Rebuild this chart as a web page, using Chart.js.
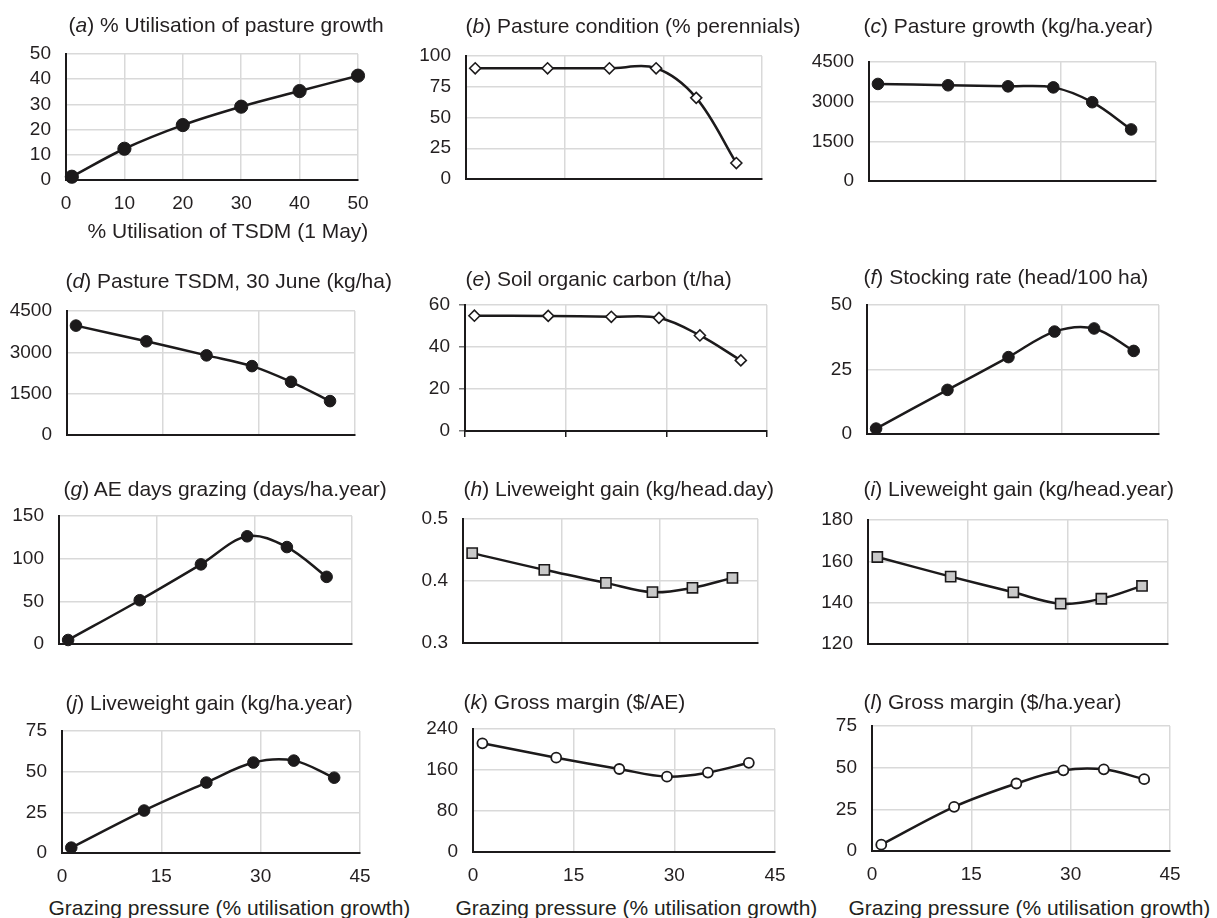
<!DOCTYPE html>
<html>
<head>
<meta charset="utf-8">
<script src="https://cdn.jsdelivr.net/npm/chart.js@4.4.0/dist/chart.umd.min.js"></script>
<style>
  html, body { margin: 0; background: #fff; }
  #page { position: relative; width: 1217px; height: 918px; overflow: hidden;
          font-family: 'Liberation Sans', Arial, sans-serif; color: #231f20; }
  #page canvas { position: absolute; }
  .label { position: absolute; font-size: 21px; line-height: 21px; white-space: nowrap; }
</style>
</head>
<body>
<div id="page"></div>
<script>
// values
const grazingPressure = [1.4, 12.4, 21.8, 28.9, 35.0, 41.1];
const tsdmUtilisation = [1, 10, 20, 30, 40, 50];
const growthUtilisation = [1.3, 12.4, 21.8, 29.1, 35.3, 41.4];
const perennials = [90, 90, 90, 90, 66, 13];
const pastureGrowth = [3670, 3620, 3580, 3540, 2980, 1950];
const pastureTsdm = [3970, 3400, 2890, 2500, 1930, 1230];
const soilCarbon = [54.9, 54.8, 54.4, 53.9, 45.5, 33.6];
const stockingRate = [2.1, 17.1, 29.8, 39.7, 40.9, 32.2];
const aeDays = [4.7, 51.3, 93.3, 126.2, 113.6, 78.7];
const lwgPerDay = [0.445, 0.418, 0.397, 0.382, 0.389, 0.405];
const lwgPerHead = [162.1, 152.6, 145.0, 139.5, 141.9, 148.1];
const lwgPerHa = [3.3, 26.1, 43.3, 55.6, 56.8, 46.3];
const marginPerAE = [212, 184, 162, 147, 155, 174];
const marginPerHa = [3.8, 26.5, 40.5, 48.4, 49.0, 43.1];

// tick labels
const xTicksTsdm = [0, 10, 20, 30, 40, 50];
const xTicksPressure = [0, 15, 30, 45];
const yTicks = {
  a: [0, 10, 20, 30, 40, 50],
  b: [0, 25, 50, 75, 100],
  c: [0, 1500, 3000, 4500],
  d: [0, 1500, 3000, 4500],
  e: [0, 20, 40, 60],
  f: [0, 25, 50],
  g: [0, 50, 100, 150],
  h: [0.3, 0.4, 0.5],
  i: [120, 140, 160, 180],
  j: [0, 25, 50, 75],
  k: [0, 80, 160, 240],
  l: [0, 25, 50, 75]
};

const titles = {
  a: '% Utilisation of pasture growth',
  b: 'Pasture condition (% perennials)',
  c: 'Pasture growth (kg/ha.year)',
  d: 'Pasture TSDM, 30 June (kg/ha)',
  e: 'Soil organic carbon (t/ha)',
  f: 'Stocking rate (head/100 ha)',
  g: 'AE days grazing (days/ha.year)',
  h: 'Liveweight gain (kg/head.day)',
  i: 'Liveweight gain (kg/head.year)',
  j: 'Liveweight gain (kg/ha.year)',
  k: 'Gross margin ($/AE)',
  l: 'Gross margin ($/ha.year)'
};
const xTitleTsdm = '% Utilisation of TSDM (1 May)';
const xTitlePressure = 'Grazing pressure (% utilisation growth)';

const panels = [
  { key: 'a', x: tsdmUtilisation, y: growthUtilisation, xTicks: xTicksTsdm, marker: 'bigDot', xTitle: xTitleTsdm },
  { key: 'b', x: grazingPressure, y: perennials, xTicks: xTicksPressure, marker: 'diamond' },
  { key: 'c', x: grazingPressure, y: pastureGrowth, xTicks: xTicksPressure, marker: 'dot' },
  { key: 'd', x: grazingPressure, y: pastureTsdm, xTicks: xTicksPressure, marker: 'dot' },
  { key: 'e', x: grazingPressure, y: soilCarbon, xTicks: xTicksPressure, marker: 'diamond', tickMarks: true },
  { key: 'f', x: grazingPressure, y: stockingRate, xTicks: xTicksPressure, marker: 'dot' },
  { key: 'g', x: grazingPressure, y: aeDays, xTicks: xTicksPressure, marker: 'dot' },
  { key: 'h', x: grazingPressure, y: lwgPerDay, xTicks: xTicksPressure, marker: 'square' },
  { key: 'i', x: grazingPressure, y: lwgPerHead, xTicks: xTicksPressure, marker: 'square' },
  { key: 'j', x: grazingPressure, y: lwgPerHa, xTicks: xTicksPressure, marker: 'dot', xTitle: xTitlePressure },
  { key: 'k', x: grazingPressure, y: marginPerAE, xTicks: xTicksPressure, marker: 'ring', xTitle: xTitlePressure },
  { key: 'l', x: grazingPressure, y: marginPerHa, xTicks: xTicksPressure, marker: 'ring', xTitle: xTitlePressure }
];

// plot area [left, top, right, bottom], title start + cap middle, axis title start + cap middle
const frames = {
  a: { box: [66, 54, 358, 180], title: [70, 24.5], xTitle: [89, 230] },
  b: { box: [466, 56, 762, 179], title: [467, 25.3] },
  c: { box: [869, 62, 1156, 181], title: [865, 25] },
  d: { box: [67, 311, 355, 435], title: [67, 280.5] },
  e: { box: [465, 305, 767, 431], title: [467, 278.7] },
  f: { box: [867, 305, 1159, 434], title: [865, 276.3] },
  g: { box: [59, 516, 352, 644], title: [65, 488.5] },
  h: { box: [463, 519, 758, 643], title: [465, 488.3] },
  i: { box: [868, 520, 1168, 644], title: [865, 488] },
  j: { box: [62, 731, 360, 853], title: [67, 702], xTitle: [50, 907] },
  k: { box: [473, 729, 775, 852], title: [465, 701.7], xTitle: [457, 907] },
  l: { box: [872, 726, 1170, 851], title: [865, 701.7], xTitle: [850, 907] }
};

const INK = '#1c1a1b';
const GRID = '#d9d9d9';
const markers = {
  dot:     { pointStyle: 'circle', pointRadius: 5.8, pointBackgroundColor: INK, pointBorderColor: INK, pointBorderWidth: 1 },
  bigDot:  { pointStyle: 'circle', pointRadius: 6.6, pointBackgroundColor: INK, pointBorderColor: INK, pointBorderWidth: 1 },
  diamond: { pointStyle: 'rectRot', pointRadius: 5.5, pointBackgroundColor: '#fff', pointBorderColor: INK, pointBorderWidth: 1.6 },
  square:  { pointStyle: 'rect', pointRadius: 7.2, pointBackgroundColor: '#c9c9c9', pointBorderColor: INK, pointBorderWidth: 1.6 },
  ring:    { pointStyle: 'circle', pointRadius: 5, pointBackgroundColor: '#fff', pointBorderColor: INK, pointBorderWidth: 1.8 }
};

Chart.defaults.font.family = "'Liberation Sans', Arial, sans-serif";
Chart.defaults.font.size = 19;
Chart.defaults.color = '#231f20';

const page = document.getElementById('page');
// y tick padding counts into the scale's top/bottom padding, so leave room
const YW = 62, PR = 30, PT = 30;

function addText(html, x, capMid) {
  const d = document.createElement('div');
  d.className = 'label';
  d.innerHTML = html;
  d.style.left = (x - 1.5) + 'px';
  d.style.top = (capMid - 10.3) + 'px';
  page.appendChild(d);
}

const fmt = v => String(Math.round(v * 100) / 100);

panels.forEach(p => {
  const f = frames[p.key];
  const [l, t, r, b] = f.box;
  const labelled = !!p.xTitle;
  const xh = labelled ? 40 : 30;
  const yt = yTicks[p.key];

  const canvas = document.createElement('canvas');
  canvas.width = r - l + YW + PR;
  canvas.height = b - t + PT + xh;
  canvas.style.left = (l - YW) + 'px';
  canvas.style.top = (t - PT) + 'px';
  page.appendChild(canvas);

  new Chart(canvas, {
    type: 'line',
    data: {
      datasets: [{
        data: p.x.map((x, i) => ({ x: x, y: p.y[i] })),
        borderColor: INK,
        borderWidth: 2.5,
        tension: 0.35,
        clip: false,
        ...markers[p.marker]
      }]
    },
    options: {
      responsive: false,
      animation: false,
      layout: { autoPadding: false, padding: { top: PT, right: PR, bottom: 0, left: 0 } },
      plugins: { legend: { display: false }, tooltip: { enabled: false } },
      scales: {
        x: {
          type: 'linear',
          min: p.xTicks[0],
          max: p.xTicks[p.xTicks.length - 1],
          afterBuildTicks: s => { s.ticks = p.xTicks.map(v => ({ value: v })); },
          afterFit: s => { s.height = xh; },
          border: { color: INK, width: 2 },
          grid: { color: GRID, lineWidth: 1.5, drawTicks: !!p.tickMarks, tickLength: 6, tickColor: INK },
          ticks: { display: labelled, padding: 12, maxRotation: 0, autoSkip: false, callback: fmt }
        },
        y: {
          min: yt[0],
          max: yt[yt.length - 1],
          afterBuildTicks: s => { s.ticks = yt.map(v => ({ value: v })); },
          afterFit: s => { s.width = YW; },
          border: { color: INK, width: 2 },
          grid: { color: GRID, lineWidth: 1.5, drawTicks: !!p.tickMarks, tickLength: 6, tickColor: '#777' },
          ticks: { padding: p.tickMarks ? 9 : 15, autoSkip: false, callback: fmt }
        }
      }
    }
  });

  addText('(<i>' + p.key + '</i>) ' + titles[p.key], f.title[0], f.title[1]);
  if (labelled) addText(p.xTitle, f.xTitle[0], f.xTitle[1]);
});
</script>
</body>
</html>
